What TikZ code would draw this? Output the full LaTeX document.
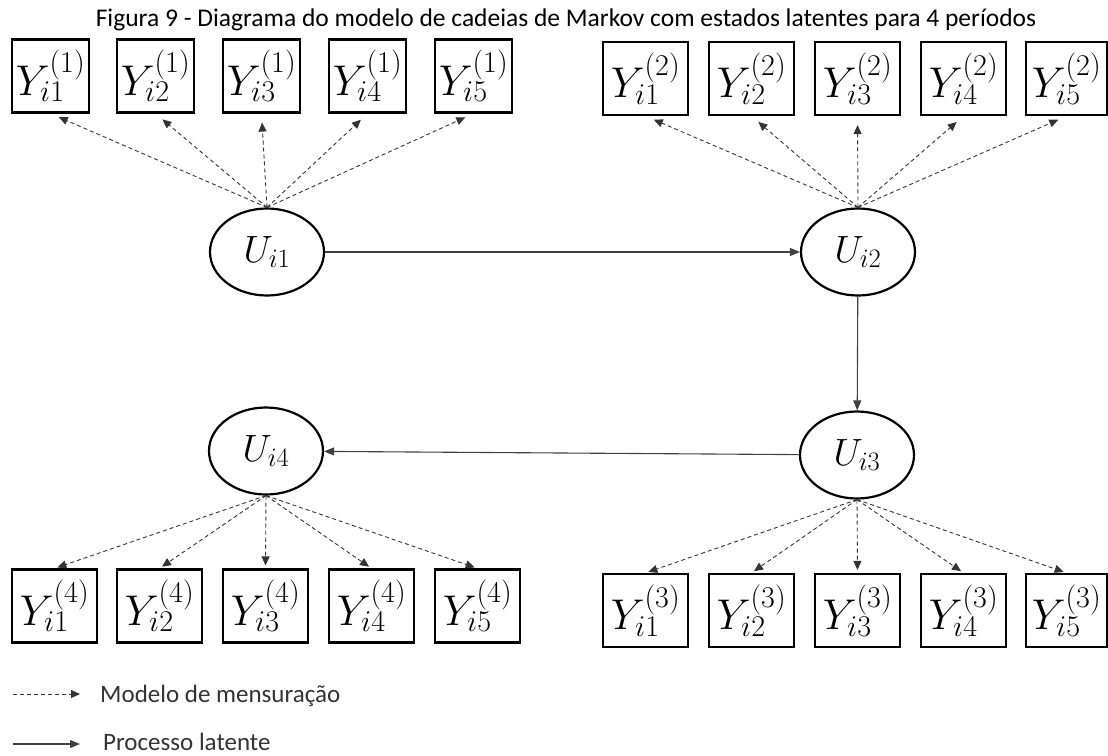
\RequirePackage{fix-cm}
\documentclass[tikz,border=0pt]{standalone}
\usepackage{fontspec}
\setmainfont{Carlito}
\usetikzlibrary{shapes.geometric,arrows.meta}
\begin{document}
\begin{tikzpicture}[x=1pt,y=-1pt,
  obs/.style={draw, line width=2.2pt, inner sep=0pt, minimum height=73pt, minimum width=85pt, font=\fontsize{43}{50}\selectfont},
  lat/.style={ellipse, draw, line width=2.2pt, minimum width=114pt, minimum height=87pt, inner sep=0pt, font=\fontsize{38}{44}\selectfont},
  meas/.style={-{Triangle[length=9pt,width=8pt]}, dash pattern=on 4pt off 3pt, line width=0.9pt, black!80},
  proc/.style={-{Triangle[length=10pt,width=8pt]}, line width=1.1pt, black!75},
  lbl/.style={anchor=base west, inner sep=0pt, font=\fontsize{25}{29}\selectfont, text=black!80}]
\useasboundingbox (0,0) rectangle (1108,755);
\node[anchor=base, inner sep=0pt, font=\fontsize{25.5}{29}\selectfont] (title) at (566,26) {Figura 9 - Diagrama do modelo de cadeias de Markov com estados latentes para 4 períodos};
% period 1
\foreach \i/\x in {1/50.5,2/155.5,3/261.5,4/367.5,5/473.5}
  \node[obs, minimum width=77pt] (a\i) at (\x,76) {$Y_{i\i}^{(1)}$};
% period 2
\foreach \i/\x/\w in {1/645.5/85,2/751.5/85,3/857.5/85,4/963.5/85,5/1066.5/81}
  \node[obs, minimum width=\w pt] (b\i) at (\x,78.5) {$Y_{i\i}^{(2)}$};
% period 3
\foreach \i/\x/\w in {1/645.5/85,2/751.5/85,3/857.5/85,4/963.5/85,5/1066.5/81}
  \node[obs, minimum width=\w pt] (c\i) at (\x,610.5) {$Y_{i\i}^{(3)}$};
% period 4
\foreach \i/\x in {1/54.5,2/159.5,3/265.5,4/371.5,5/477.5}
  \node[obs] (d\i) at (\x,606) {$Y_{i\i}^{(4)}$};
% latent states
\node[lat] (u1) at (267,252) {$U_{i1}$};
\node[lat] (u2) at (858,252) {$U_{i2}$};
\node[lat] (u3) at (857,455) {$U_{i3}$};
\node[lat] (u4) at (266,451) {$U_{i4}$};
% measurement
\foreach \i in {1,...,5} {
  \draw[meas, shorten >=9pt] (u1.north) -- (a\i.south);
  \draw[meas, shorten >=9pt] (u2.north) -- (b\i.south);
  \draw[meas, shorten >=3pt] (u3.south) -- (c\i.north);
  \draw[meas, shorten >=3pt] (u4.south) -- (d\i.north);
}
% latent process
\draw[proc] (u1) -- (u2);
\draw[proc] (u2) -- (u3);
\draw[proc] (u3) -- (u4);
% legend
\coordinate (l1s) at (13,694);
\coordinate (l1e) at (80,694);
\coordinate (l2s) at (13,744);
\coordinate (l2e) at (80,744);
\draw[meas] (l1s) -- (l1e);
\draw[proc] (l2s) -- (l2e);
\node[lbl] (t1) at (100,702) {Modelo de mensuração};
\node[lbl] (t2) at (103,750) {Processo latente};
\end{tikzpicture}
\end{document}
